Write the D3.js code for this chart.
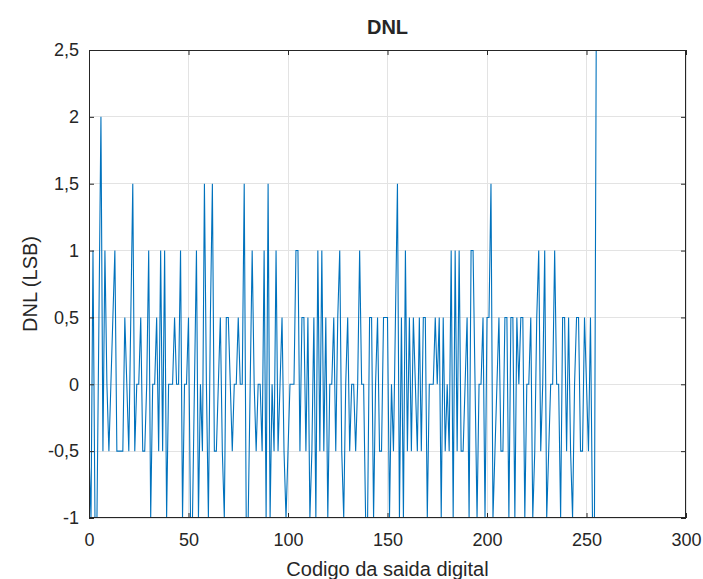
<!DOCTYPE html>
<html>
<head>
<meta charset="utf-8">
<script src="https://cdn.jsdelivr.net/npm/d3@7"></script>
<style>
  body { margin: 0; background: #fff; }
  svg { display: block; }
  text { font-family: "Liberation Sans", Arial, sans-serif; fill: #262626; }
</style>
</head>
<body>
<svg id="chart" width="703" height="579"></svg>
<script>
// Differential non-linearity per output code (LSB)
const codes = d3.range(0, 256);
const dnl = [
  -0.5, -1, 1, -1, -1, 0.5, 2, -0.5, 1, 0,
  -0.5, 0, 0.5, 1, -0.5, -0.5, -0.5, -0.5, 0.5, 0,
  -0.5, 0.5, 1.5, -0.5, 0, 0, 0.5, -0.5, -0.5, 0,
  1, -1, 0, 0, 0.5, -0.5, 1, -0.5, 1, -1,
  0, 0, 0, 0.5, 0, 0, 1, -1, 0, 0,
  0.5, -1, -1, 0, 1, -1, 0, -0.5, 1.5, 0,
  -1, 0.5, 1.5, -0.5, -0.5, 0, 0.5, -0.5, -1, 0.5,
  0.5, 0, -0.5, 0, 0, 0.5, 0, 0, 1.5, -1,
  -1, 0, 1, 0, -0.5, 0, 0, -0.5, 1, -1,
  1.5, -1, 0, -0.5, 1, -0.5, 0, 0.5, -0.5, -1,
  -0.5, 0, 0, 0, 1, 1, -0.5, 0.5, 0.5, -0.5,
  0.5, -1, -0.5, 0.5, -1, 1, -0.5, 1, -0.5, 0.5,
  -1, 0, 0, 0.5, -0.5, 0.5, 1, -0.5, -1, 0,
  0.5, -0.5, 0, 0, -0.5, 0, 1, 0, 0, -1,
  -1, 0.5, 0.5, -1, 0, 0.5, -0.5, -0.5, 0.5, 0.5,
  0.5, -1, 0, -0.5, 0.5, 1.5, -1, 0.5, -1, 1,
  -0.5, 0.5, -0.5, 0.5, 0, -0.5, 0.5, -0.5, 0.5, 0.5,
  -1, 0, 0, 0, 0.5, 0, 0.5, -1, 0.5, -0.5,
  0, -0.5, 1, -1, 1, -0.5, 1, -0.5, -0.5, 0,
  0.5, -1, 1, 1, 0, -1, 0, 0, 0.5, -1,
  0.5, 0.5, 1.5, -1, -0.5, 0, 0.5, -0.5, -0.5, 0.5,
  0.5, -1, 0.5, 0.5, -1, 0.5, 0, 0.5, 0.5, -1,
  0, 0, 0.5, -1, -0.5, 0.5, 1, -0.5, 0, 1,
  -1, -0.5, 0, 0, 1, 0, 0, -1, 0.5, 0.5,
  -0.5, 0.5, -0.5, -1, 0, 0.5, 0.5, -0.5, -0.5, 0.5,
  0, -0.5, 0.5, -1, -1, 3
];
const xTicks = [0, 50, 100, 150, 200, 250, 300];
const yTicks = [-1, -0.5, 0, 0.5, 1, 1.5, 2, 2.5];
const titleText = "DNL";
const xLabel = "Codigo da saida digital";
const yLabel = "DNL (LSB)";

const svg = d3.select("#chart");
const m = { left: 89, top: 50, right: 686, bottom: 518 };
const W = m.right - m.left, H = m.bottom - m.top;

const x = d3.scaleLinear().domain([0, 300]).range([m.left, m.right]);
const y = d3.scaleLinear().domain([-1, 2.5]).range([m.bottom, m.top]);
const fmt = v => String(v).replace(".", ",");

// grid
const grid = svg.append("g");
grid.selectAll("line.gx").data(xTicks).join("line")
  .attr("x1", d => x(d)).attr("x2", d => x(d))
  .attr("y1", m.top).attr("y2", m.bottom)
  .attr("stroke", "#e3e3e3").attr("stroke-width", 1).attr("shape-rendering", "crispEdges");
grid.selectAll("line.gy").data(yTicks).join("line")
  .attr("x1", m.left).attr("x2", m.right)
  .attr("y1", d => y(d)).attr("y2", d => y(d))
  .attr("stroke", "#e3e3e3").attr("stroke-width", 1).attr("shape-rendering", "crispEdges");

// data line, clipped to plot box
svg.append("clipPath").attr("id", "clip").append("rect")
  .attr("x", m.left).attr("y", m.top).attr("width", W).attr("height", H);
const line = d3.line().x((d, i) => x(codes[i])).y(d => y(d));
svg.append("path").datum(dnl)
  .attr("clip-path", "url(#clip)")
  .attr("d", line)
  .attr("fill", "none").attr("stroke", "#0072BD").attr("stroke-width", 1.1)
  .attr("stroke-linejoin", "miter");

// axes with inward ticks on all four sides
const tl = 5;
const axBottom = d3.axisBottom(x).tickValues(xTicks).tickSize(-tl).tickPadding(15).tickFormat(fmt);
const axTop = d3.axisTop(x).tickValues(xTicks).tickSize(-tl).tickFormat("");
const axLeft = d3.axisLeft(y).tickValues(yTicks).tickSize(-tl).tickPadding(10).tickFormat(fmt);
const axRight = d3.axisRight(y).tickValues(yTicks).tickSize(-tl).tickFormat("");

function style(g) {
  g.select(".domain").remove();
  g.selectAll("line").attr("stroke", "#262626");
  g.selectAll("text").style("font-size", "18px").attr("fill", "#262626");
}
svg.append("g").attr("transform", `translate(0,${m.bottom})`).call(axBottom).call(style);
svg.append("g").attr("transform", `translate(0,${m.top})`).call(axTop).call(style);
svg.append("g").attr("transform", `translate(${m.left},0)`).call(axLeft).call(style);
svg.append("g").attr("transform", `translate(${m.right},0)`).call(axRight).call(style);

// frame
svg.append("rect").attr("x", m.left + 0.5).attr("y", m.top + 0.5)
  .attr("width", W - 1).attr("height", H - 1)
  .attr("fill", "none").attr("stroke", "#262626").attr("stroke-width", 1);

// titles
svg.append("text").attr("x", (m.left + m.right) / 2).attr("y", 34)
  .attr("text-anchor", "middle").style("font-size", "20px").style("font-weight", "bold")
  .text(titleText);
svg.append("text").attr("x", (m.left + m.right) / 2).attr("y", 576)
  .attr("text-anchor", "middle").style("font-size", "20px").text(xLabel);
svg.append("text").attr("transform", `translate(37,${(m.top + m.bottom) / 2}) rotate(-90)`)
  .attr("text-anchor", "middle").style("font-size", "20px").text(yLabel);
</script>
</body>
</html>
